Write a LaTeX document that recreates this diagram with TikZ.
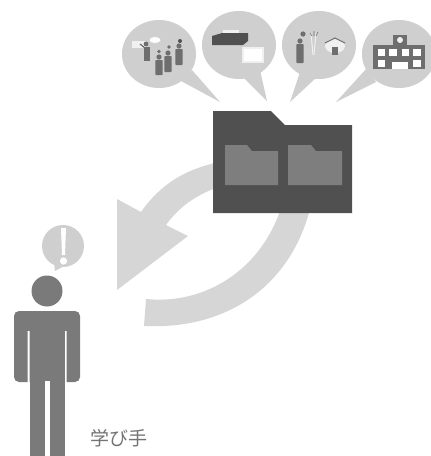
\documentclass[tikz,border=0pt]{standalone}
\usepackage{fontspec}
\newfontfamily\cjkfont{Noto Sans CJK JP}
\definecolor{bub}{HTML}{CFCFCF}
\definecolor{arrowg}{HTML}{D6D6D6}
\definecolor{fold}{HTML}{505050}
\definecolor{inner}{HTML}{7E7E7E}
\definecolor{pers}{HTML}{7A7A7A}
\definecolor{icon}{HTML}{6E6E6E}
\definecolor{pale}{HTML}{F0F0F0}
\tikzset{
  bubble/.style={fill=bub,draw=none},
  arrowpart/.style={fill=arrowg,draw=none},
  paleshape/.style={fill=pale,draw=none},
  iconshape/.style={fill=icon,draw=none},
  personshape/.style={fill=pers,draw=none},
}
\newcommand{\mini}[3]{%
  \fill[iconshape] (#1,#2) circle[radius=2.6pt];
  \fill[iconshape,rounded corners=0.8pt] (#1-3.6,#2+3) rectangle (#1+3.6,#3);
}
\begin{document}
\begin{tikzpicture}[x=1pt,y=-1pt]
\useasboundingbox (0,0) rectangle (431,456);
\fill[white] (0,0) rectangle (431,456);
% speech bubbles
\fill[bubble] (159,54) ellipse[x radius=37pt,y radius=34pt];
\fill[bubble] (192,70) -- (220,102) -- (181,81) -- cycle;
\fill[bubble] (239,45) ellipse[x radius=37pt,y radius=34pt];
\fill[bubble] (260,70) -- (267,101) -- (243,77) -- cycle;
\fill[bubble] (319,45) ellipse[x radius=37pt,y radius=34pt];
\fill[bubble] (300,72) -- (290,102) -- (317,77) -- cycle;
\fill[bubble] (399,54) ellipse[x radius=37pt,y radius=34pt];
\fill[bubble] (367,68) -- (336,102) -- (376,82) -- cycle;
% icon 1: classroom
\fill[paleshape] (132,41) rectangle (146,48);
\fill[white] (155,40) ellipse[x radius=5.5pt,y radius=3pt];
\fill[iconshape] (146,44) circle[radius=2.4pt];
\fill[iconshape] (144,47) rectangle (150,61);
\draw[icon,line width=1.2pt] (145,48) -- (140,44);
\mini{159}{57}{75}
\mini{168}{53}{72}
\mini{179}{46}{65}
\fill[iconshape] (159,51.5) circle[radius=1.8pt];
\fill[iconshape] (169,47) circle[radius=1.8pt];
\fill[fold] (180,41) circle[radius=2pt];
% icon 2: box and panel
\fill[paleshape] (223,30) rectangle (239,35);
\fill[fold] (212,36) -- (222,33) -- (248,33) -- (248,41) -- (243,45) -- (212,45) -- cycle;
\fill[pale] (242,47) rectangle (264,63);
\fill[white] (244,49) rectangle (262,61);
% icon 3: person and house
\mini{300}{41}{63}
\fill[iconshape] (303,34) circle[radius=2.6pt];
\draw[pale,line width=1pt] (311,33) -- (313,55);
\draw[pale,line width=1pt] (316,33) -- (314,55);
\draw[icon,line width=.6pt] (310,33) -- (312,36) (318,32) -- (316,36) (314,31) -- (314,36);
\fill[pale] (335,46) ellipse[x radius=10pt,y radius=7pt];
\draw[icon,line width=1.1pt] (325,43) -- (335,38) -- (345,43);
\fill[iconshape] (332,47) rectangle (338,55);
% icon 4: school
\fill[iconshape] (393,35) rectangle (407,45);
\fill[iconshape] (373,45) rectangle (425,69);
\fill[pale] (400,40) circle[radius=3pt];
\foreach \xa/\xb in {378/385,389/397,402/409,413/421}{\fill[white] (\xa,48.5) rectangle (\xb,56);}
\foreach \xa/\xb in {378/385,413/421}{\fill[white] (\xa,60) rectangle (\xb,67);}
\fill[white] (392,62) rectangle (408,69);
% circular arrow
\fill[arrowpart] (117,199) -- (141,212) .. controls (160,185) and (185,168) .. (225,161)
  -- (225,185) .. controls (197,193) and (178,208) .. (166,225)
  -- (188,236) -- (117,290) -- cycle;
\fill[arrowpart] (311,205) .. controls (292,285) and (228,330) .. (144,326)
  -- (146,299) .. controls (205,305) and (262,270) .. (282,205) -- cycle;
% folder
\fill[fold] (213,111) -- (271,111) -- (285,125) -- (352,125) -- (352,213) -- (213,213) -- cycle;
\fill[inner] (225,145) -- (247,145) -- (252,151) -- (278,151) -- (278,185) -- (225,185) -- cycle;
\fill[inner] (288,145) -- (311,145) -- (316,151) -- (342,151) -- (342,185) -- (288,185) -- cycle;
% learner
\fill[bub] (63,246) circle[radius=21pt];
\fill[bub] (54,262) -- (55,271) -- (66,265) -- cycle;
\fill[white] (61,228) -- (66,228) -- (65,255) -- (62,255) -- cycle;
\fill[white] (63.5,261) circle[radius=3.6pt];
\fill[personshape] (47,291) circle[radius=15.5pt];
\fill[personshape,rounded corners=5pt] (14,311) rectangle (80,382);
\fill[white] (27.5,331) rectangle (29.5,385) (64.5,331) rectangle (66.5,385);
\fill[white] (29.5,382) rectangle (64.5,385);
\fill[personshape] (29.5,330) rectangle (64.5,456);
\fill[white] (45,381) rectangle (49.5,457);
\node[inner sep=0pt,anchor=center,text=black!55] (label) at (119,438) {\cjkfont\fontsize{19pt}{19pt}\selectfont 学び手};
\end{tikzpicture}
\end{document}
